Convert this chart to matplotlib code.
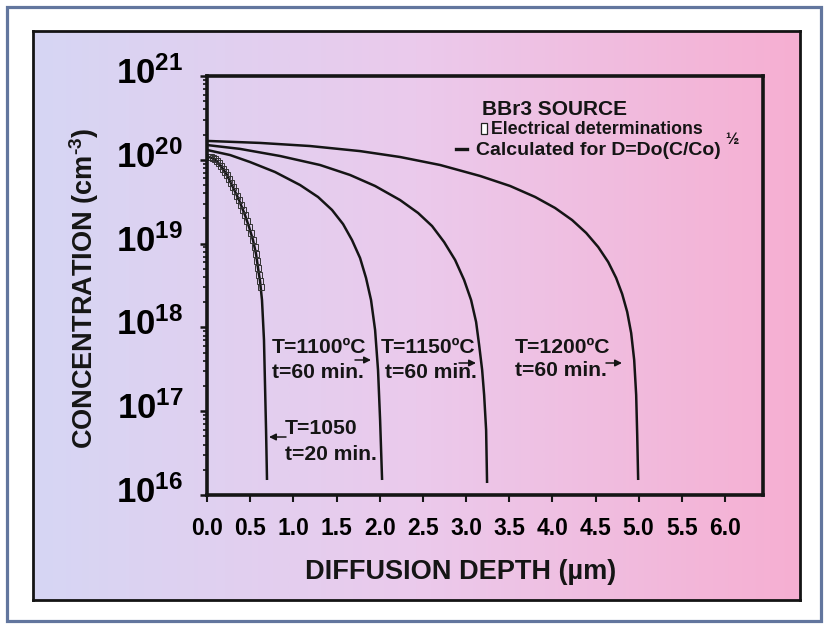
import numpy as np
import matplotlib
matplotlib.use('Agg')
import matplotlib.pyplot as plt
from matplotlib import font_manager
from matplotlib.patches import Rectangle, FancyArrowPatch
from matplotlib.lines import Line2D
from matplotlib.colors import LinearSegmentedColormap
from matplotlib.transforms import ScaledTranslation
from matplotlib.ticker import FixedLocator, FixedFormatter, LogLocator, NullFormatter

W, H = 833, 629

# ---------------- data (depth in um, concentration in cm^-3) ----------------
depth_1200 = [0.000, 0.614, 1.194, 1.773, 2.236, 2.700, 3.164, 3.511, 3.801, 4.032, 4.229,
              4.392, 4.531, 4.647, 4.739, 4.809, 4.867, 4.913, 4.948, 4.971, 4.983, 4.994]
conc_1200 = [1.68e20, 1.59e20, 1.46e20, 1.27e20, 1.08e20, 8.67e19, 6.41e19, 4.87e19,
             3.60e19, 2.66e19, 1.91e19, 1.34e19, 9.11e18, 6.03e18, 3.89e18, 2.50e18,
             1.53e18, 8.57e17, 4.08e17, 1.56e17, 5.20e16, 1.51e16]

depth_1150 = [0.000, 0.382, 0.846, 1.309, 1.657, 1.947, 2.236, 2.445, 2.607, 2.746, 2.874,
              2.978, 3.059, 3.117, 3.152, 3.187, 3.210, 3.233, 3.244]
conc_1150 = [1.50e20, 1.35e20, 1.11e20, 8.67e19, 6.59e19, 4.87e19, 3.31e19, 2.32e19,
             1.62e19, 1.045e19, 6.37e18, 3.68e18, 2.12e18, 1.16e18, 6.17e17, 3.10e17,
             1.56e17, 5.97e16, 1.39e16]

depth_1100 = [0.000, 0.267, 0.498, 0.788, 1.078, 1.286, 1.448, 1.576, 1.680, 1.773, 1.842,
              1.900, 1.947, 1.981, 2.005, 2.028]
conc_1100 = [1.31e20, 1.14e20, 9.41e19, 7.15e19, 5.00e19, 3.60e19, 2.52e19, 1.71e19,
             1.10e19, 6.73e18, 3.89e18, 2.12e18, 9.31e17, 3.10e17, 7.85e16, 1.51e16]

depth_1050 = [0.023, 0.093, 0.162, 0.232, 0.301, 0.371, 0.440, 0.487, 0.533, 0.568, 0.591,
              0.614, 0.637, 0.660, 0.672, 0.684, 0.695]
conc_1050 = [1.08e20, 1.02e20, 8.43e19, 6.59e19, 4.73e19, 3.31e19, 2.19e19, 1.58e19,
             1.10e19, 7.52e18, 5.12e18, 3.58e18, 2.12e18, 7.07e17, 2.05e17, 5.97e16, 1.51e16]

# electrical determinations (open squares)
meas_depth = [0.023, 0.046, 0.070, 0.093, 0.116, 0.139, 0.162, 0.185, 0.209, 0.232,
              0.255, 0.278, 0.301, 0.324, 0.348, 0.371, 0.394, 0.417, 0.440, 0.463,
              0.487, 0.510, 0.533, 0.556, 0.568, 0.579, 0.591, 0.602, 0.614, 0.626]
meas_conc = [1.08e20, 1.08e20, 1.05e20, 1.02e20, 9.68e19, 9.16e19, 8.43e19, 7.76e19,
             7.14e19, 6.59e19, 5.90e19, 5.28e19, 4.73e19, 4.25e19, 3.70e19, 3.31e19,
             2.89e19, 2.52e19, 2.19e19, 1.86e19, 1.58e19, 1.34e19, 1.10e19, 9.10e18,
             7.52e18, 6.19e18, 5.12e18, 4.22e18, 3.58e18, 3.03e18]

x_ticks = [0.0, 0.5, 1.0, 1.5, 2.0, 2.5, 3.0, 3.5, 4.0, 4.5, 5.0, 5.5, 6.0]
x_tick_labels = ['0.0', '0.5', '1.0', '1.5', '2.0', '2.5', '3.0', '3.5', '4.0', '4.5',
                 '5.0', '5.5', '6.0']
y_ticks = [1e16, 1e17, 1e18, 1e19, 1e20, 1e21]
y_tick_labels = [r'$10^{16}$', r'$10^{17}$', r'$10^{18}$', r'$10^{19}$', r'$10^{20}$',
                 r'$10^{21}$']

# ---------------- fonts ----------------
names = {f.name for f in font_manager.fontManager.ttflist}
narrow = 'Liberation Sans Narrow' if 'Liberation Sans Narrow' in names else 'Liberation Sans'
plt.rcParams['font.family'] = ['Liberation Sans', 'DejaVu Sans']
plt.rcParams['font.weight'] = 'bold'
plt.rcParams['mathtext.fontset'] = 'custom'
plt.rcParams['mathtext.rm'] = 'Liberation Sans:bold'
plt.rcParams['mathtext.bf'] = 'Liberation Sans:bold'
plt.rcParams['mathtext.it'] = 'Liberation Sans:bold'
plt.rcParams['mathtext.sf'] = 'Liberation Sans:bold'

fig = plt.figure(figsize=(W / 100, H / 100), dpi=100)
fig.patch.set_facecolor('white')


def fx(px):
    return px / W


def fy(py):
    return 1 - py / H


# outer blue-grey frame
fig.patches.append(Rectangle((fx(7), fy(621)), fx(821) - fx(7), fy(7) - fy(621),
                             transform=fig.transFigure, fill=False, ec='#62769e',
                             lw=2.3, zorder=0))

# gradient panel
bg = fig.add_axes([fx(33), fy(600), fx(800) - fx(33), fy(31) - fy(600)], zorder=0)
grad = np.linspace(0, 1, 512).reshape(1, -1)
cmap = LinearSegmentedColormap.from_list('bg', ['#d6d6f4', '#ebcaec', '#f6afd2'])
bg.imshow(grad, aspect='auto', cmap=cmap, extent=[0, 1, 0, 1], interpolation='bilinear')
bg.set_xticks([])
bg.set_yticks([])
for s in bg.spines.values():
    s.set_linewidth(2.0)
    s.set_color('#141414')

# main axes
ax = fig.add_axes([fx(207), fy(495), fx(763) - fx(207), fy(76) - fy(495)], zorder=1)
ax.patch.set_alpha(0)
ax.set_yscale('log')
ax.set_xlim(0, 6.44)
ax.set_ylim(1e16, 1e21)

lc = '#151515'
for d, c in [(depth_1200, conc_1200), (depth_1150, conc_1150),
             (depth_1100, conc_1100), (depth_1050, conc_1050)]:
    ax.plot(d, c, color=lc, lw=1.8, solid_joinstyle='round', solid_capstyle='butt')
ax.plot(meas_depth, meas_conc, ls='none', marker='s', ms=4.4, mfc='none', mec='#333333',
        mew=0.7)

for s in ax.spines.values():
    s.set_linewidth(2.6)
    s.set_color('#151515')

ax.xaxis.set_major_locator(FixedLocator(x_ticks))
ax.xaxis.set_major_formatter(FixedFormatter(x_tick_labels))
ax.yaxis.set_major_locator(FixedLocator(y_ticks))
ax.yaxis.set_major_formatter(FixedFormatter(y_tick_labels))
ax.yaxis.set_minor_locator(LogLocator(base=10, subs=np.arange(2, 10)))
ax.yaxis.set_minor_formatter(NullFormatter())
ax.tick_params(axis='x', direction='out', length=5, width=1.5, pad=11, labelsize=16.5,
               color='#151515')
ax.tick_params(axis='y', which='major', direction='out', length=5, width=1.8, pad=12,
               labelsize=25, color='#151515')
ax.tick_params(axis='y', which='minor', direction='out', length=3, width=1.2,
               color='#151515')
for lab in ax.get_xticklabels():
    lab.set_fontfamily([narrow, 'Liberation Sans'])
    lab.set_fontweight('bold')
shift_up = ScaledTranslation(0, 6 / 100, fig.dpi_scale_trans)
for lab in ax.get_yticklabels():
    lab.set_transform(lab.get_transform() + shift_up)

# axis titles
fig.text(fx(461), fy(572), 'DIFFUSION DEPTH (µm)', ha='center', va='center',
         fontsize=19.5, fontweight='bold', color='#151515')
fig.text(fx(84), fy(288), r'CONCENTRATION (cm$^{\text{-3}}$)', ha='center', va='center',
         rotation=90, fontsize=19.5, fontweight='bold', color='#151515')

# legend block
fig.text(fx(482), fy(115), 'BBr3 SOURCE', ha='left', va='baseline', fontsize=15,
         fontweight='bold', color='#151515')
fig.patches.append(Rectangle((fx(481), fy(134)), fx(487) - fx(481), fy(123) - fy(134),
                             transform=fig.transFigure, fc='white', ec='#222222',
                             lw=0.9, zorder=3))
fig.text(fx(491), fy(134), 'Electrical determinations', ha='left', va='baseline',
         fontsize=12.8, fontweight='bold', color='#151515')
fig.lines.append(Line2D([fx(456), fx(467)], [fy(149), fy(149)], transform=fig.transFigure,
                        color='#151515', lw=2.4))
fig.text(fx(476), fy(155), 'Calculated for D=Do(C/Co)', ha='left', va='baseline',
         fontsize=14.0, fontweight='bold', color='#151515')
fig.text(fx(725), fy(144), '½', ha='left', va='baseline', fontsize=11.5,
         fontweight='bold', color='#151515')

# curve annotations
tkw = dict(ha='left', va='center', fontsize=15.2, fontweight='bold', color='#151515')
fig.text(fx(272), fy(347), 'T=1100ºC', **tkw)
fig.text(fx(272), fy(372), 't=60 min.', **tkw)
fig.text(fx(381), fy(347), 'T=1150ºC', **tkw)
fig.text(fx(385), fy(372), 't=60 min.', **tkw)
fig.text(fx(285), fy(428), 'T=1050', **tkw)
fig.text(fx(285), fy(455), 't=20 min.', **tkw)
fig.text(fx(515), fy(348), 'T=1200ºC', **tkw)
fig.text(fx(515), fy(371), 't=60 min.', **tkw)

akw = dict(arrowstyle='-|>', lw=1.1, color='#151515', mutation_scale=10,
           shrinkA=0, shrinkB=0)
for (x0, y0, x1, y1) in [(355, 360, 371, 360), (459, 363, 476, 363),
                         (286, 437, 269, 437), (606, 363, 622, 363)]:
    fig.add_artist(FancyArrowPatch((fx(x0), fy(y0)), (fx(x1), fy(y1)),
                                   transform=fig.transFigure, **akw))

fig.savefig('out.png', dpi=100, facecolor='white')
